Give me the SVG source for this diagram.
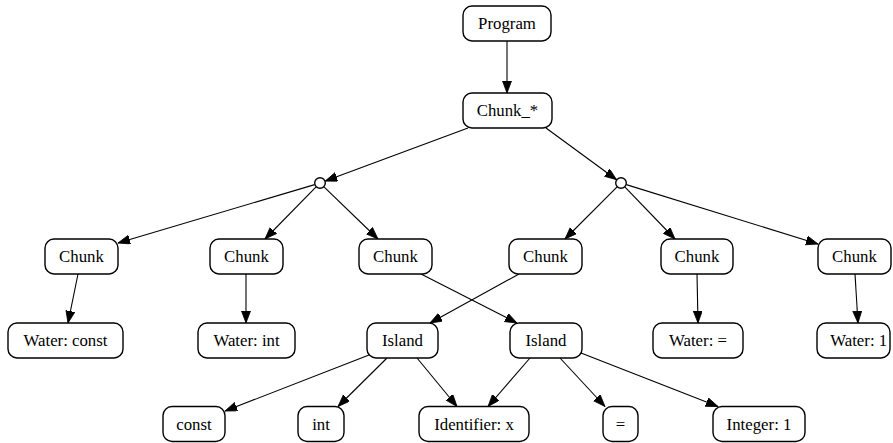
<svg xmlns="http://www.w3.org/2000/svg" width="893" height="443" viewBox="0 0 893 443">
  <style>
    .box rect { fill: #ffffff; stroke: #000000; stroke-width: 1.4; }
    .box circle { fill: #ffffff; stroke: #000000; stroke-width: 1.4; }
    .box text { font-family: 'Liberation Serif', 'Times New Roman', serif; font-size: 16.8px; fill: #000000; text-anchor: middle; }
    .links path { fill: none; stroke: #000000; stroke-width: 1.1; marker-end: url(#arrow); }
  </style>
  <defs>
    <marker id="arrow" markerUnits="userSpaceOnUse" markerWidth="13" markerHeight="10" refX="12" refY="4.5" orient="auto">
      <path d="M0,0 L12,4.5 L0,9 Z" fill="#000000" stroke="#000000" stroke-width="0.8"/>
    </marker>
  </defs>
  <rect width="893" height="443" fill="#ffffff"/>

  <!-- connectors -->
  <g class="links" id="connectors">
    <path d="M507,41 L507,93"/>
    <path d="M468,128 L325.2,181.1"/>
    <path d="M546,128 L616.6,179.7"/>
    <path d="M314.7,184.6 L118,243"/>
    <path d="M316.1,186.9 L265,239"/>
    <path d="M324,186.8 L378,239"/>
    <path d="M617.1,186.9 L565,239"/>
    <path d="M624.8,186.8 L675,239"/>
    <path d="M626.3,184.6 L818,244"/>
    <path d="M78,274 L68,323"/>
    <path d="M246,274 L246,323"/>
    <path d="M421,274 L517,323"/>
    <path d="M519,274 L430,323"/>
    <path d="M697,274 L698,323"/>
    <path d="M855,274 L858,323"/>
    <path d="M369,355 L225,411"/>
    <path d="M387,358 L338,406.5"/>
    <path d="M417,358 L457,406.5"/>
    <path d="M530,358 L488,406.5"/>
    <path d="M560,358 L605,406.5"/>
    <path d="M581,353 L718,406.5"/>
  </g>

  <g class="box" id="program"><rect x="463" y="6" width="88" height="35" rx="9"/><text x="507" y="29.3">Program</text></g>
  <g class="box" id="chunk_star"><rect x="463" y="93" width="89" height="35" rx="9"/><text x="507.5" y="116.3">Chunk_*</text></g>
  <g class="box" id="alt_left"><circle cx="320" cy="183" r="5.3"/></g>
  <g class="box" id="alt_right"><circle cx="621" cy="183" r="5.3"/></g>

  <g class="box" id="chunk1"><rect x="45" y="239" width="73" height="35" rx="9"/><text x="81.5" y="262.3">Chunk</text></g>
  <g class="box" id="chunk2"><rect x="210" y="239" width="73" height="35" rx="9"/><text x="246.5" y="262.3">Chunk</text></g>
  <g class="box" id="chunk3"><rect x="359" y="239" width="73" height="35" rx="9"/><text x="395.5" y="262.3">Chunk</text></g>
  <g class="box" id="chunk4"><rect x="509" y="239" width="73" height="35" rx="9"/><text x="545.5" y="262.3">Chunk</text></g>
  <g class="box" id="chunk5"><rect x="661" y="239" width="72" height="35" rx="9"/><text x="697" y="262.3">Chunk</text></g>
  <g class="box" id="chunk6"><rect x="818" y="239" width="73" height="35" rx="9"/><text x="854.5" y="262.3">Chunk</text></g>

  <g class="box" id="water_const"><rect x="8" y="323" width="115" height="35" rx="9"/><text x="65.5" y="346.3">Water: const</text></g>
  <g class="box" id="water_int"><rect x="198" y="323" width="97" height="35" rx="9"/><text x="246.5" y="346.3">Water: int</text></g>
  <g class="box" id="island1"><rect x="367" y="323" width="71" height="35" rx="9"/><text x="402.5" y="346.3">Island</text></g>
  <g class="box" id="island2"><rect x="510" y="323" width="72" height="35" rx="9"/><text x="546" y="346.3">Island</text></g>
  <g class="box" id="water_eq"><rect x="653" y="323" width="90" height="35" rx="9"/><text x="698" y="346.3">Water: =</text></g>
  <g class="box" id="water_1"><rect x="817" y="323" width="73" height="35" rx="9"/><text x="858.7" y="346.3">Water: 1</text></g>

  <g class="box" id="tok_const"><rect x="163" y="406.5" width="62" height="35" rx="9"/><text x="194" y="429.8">const</text></g>
  <g class="box" id="tok_int"><rect x="298" y="406.5" width="46" height="35" rx="9"/><text x="321" y="429.8">int</text></g>
  <g class="box" id="tok_ident"><rect x="419" y="406.5" width="110" height="35" rx="9"/><text x="474" y="429.8">Identifier: x</text></g>
  <g class="box" id="tok_eq"><rect x="603" y="406.5" width="35" height="35" rx="9"/><text x="620.5" y="429.8">=</text></g>
  <g class="box" id="tok_integer"><rect x="713" y="406.5" width="92" height="35" rx="9"/><text x="759" y="429.8">Integer: 1</text></g>
</svg>
